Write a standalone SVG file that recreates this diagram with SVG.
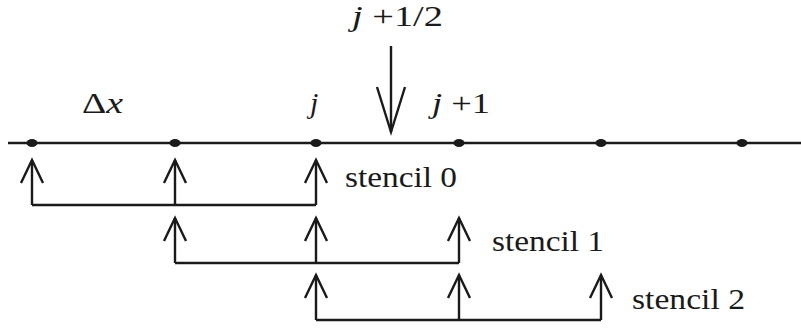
<svg xmlns="http://www.w3.org/2000/svg" width="801" height="332" viewBox="0 0 801 332">
<style>
.ln{stroke:#1a1a1a;stroke-width:2.4;fill:none;stroke-linecap:butt;stroke-linejoin:miter}
.dot{fill:#1a1a1a}
.t{font-family:"Liberation Serif","DejaVu Serif",serif;font-size:29px;fill:#1a1a1a}
.m{font-family:"Liberation Serif","DejaVu Serif",serif;font-size:30px;fill:#1a1a1a}
.i{font-style:italic}
</style>
<rect width="801" height="332" fill="#fff"/>
<g id="axis">
<line class="ln" x1="8" y1="143" x2="801" y2="143"/>
<ellipse class="dot" cx="32" cy="143" rx="5.5" ry="4"/>
<ellipse class="dot" cx="175" cy="143" rx="5.5" ry="4"/>
<ellipse class="dot" cx="316" cy="143" rx="5.5" ry="4"/>
<ellipse class="dot" cx="459" cy="143" rx="5.5" ry="4"/>
<ellipse class="dot" cx="601" cy="143" rx="5.5" ry="4"/>
<ellipse class="dot" cx="742" cy="143" rx="5.5" ry="4"/>
</g>
<g id="labels">
<text class="m" x="82" y="113" textLength="41" lengthAdjust="spacingAndGlyphs">Δ<tspan class="i">x</tspan></text>
<text class="m i" x="310" y="113">j</text>
<text class="m" x="432" y="113" textLength="58" lengthAdjust="spacingAndGlyphs"><tspan class="i">j</tspan> +1</text>
<text class="m" x="352" y="26" font-size="28" textLength="91" lengthAdjust="spacingAndGlyphs"><tspan class="i">j</tspan> +1/2</text>
</g>
<g id="connectors">
<line class="ln" x1="391" y1="46" x2="391" y2="132"/>
<path class="ln" d="M377,87 L391,132 L405,87"/>
</g>
<g id="stencil0">
<path class="ln" d="M32,205 H316"/>
<path class="ln" d="M32,205 V160 M175,205 V160 M316,205 V160"/>
<path class="ln" d="M21,183 L32,160 L43,183 M164,183 L175,160 L186,183 M305,183 L316,160 L327,183"/>
<text class="t" x="345" y="187" textLength="112" lengthAdjust="spacingAndGlyphs">stencil 0</text>
</g>
<g id="stencil1">
<path class="ln" d="M175,263 H459"/>
<path class="ln" d="M175,263 V218 M316,263 V218 M459,263 V218"/>
<path class="ln" d="M164,241 L175,218 L186,241 M305,241 L316,218 L327,241 M448,241 L459,218 L470,241"/>
<text class="t" x="492" y="251" textLength="112" lengthAdjust="spacingAndGlyphs">stencil 1</text>
</g>
<g id="stencil2">
<path class="ln" d="M316,320 H601"/>
<path class="ln" d="M316,320 V275 M459,320 V275 M601,320 V275"/>
<path class="ln" d="M305,298 L316,275 L327,298 M448,298 L459,275 L470,298 M590,298 L601,275 L612,298"/>
<text class="t" x="632" y="309" textLength="113" lengthAdjust="spacingAndGlyphs">stencil 2</text>
</g>
</svg>
